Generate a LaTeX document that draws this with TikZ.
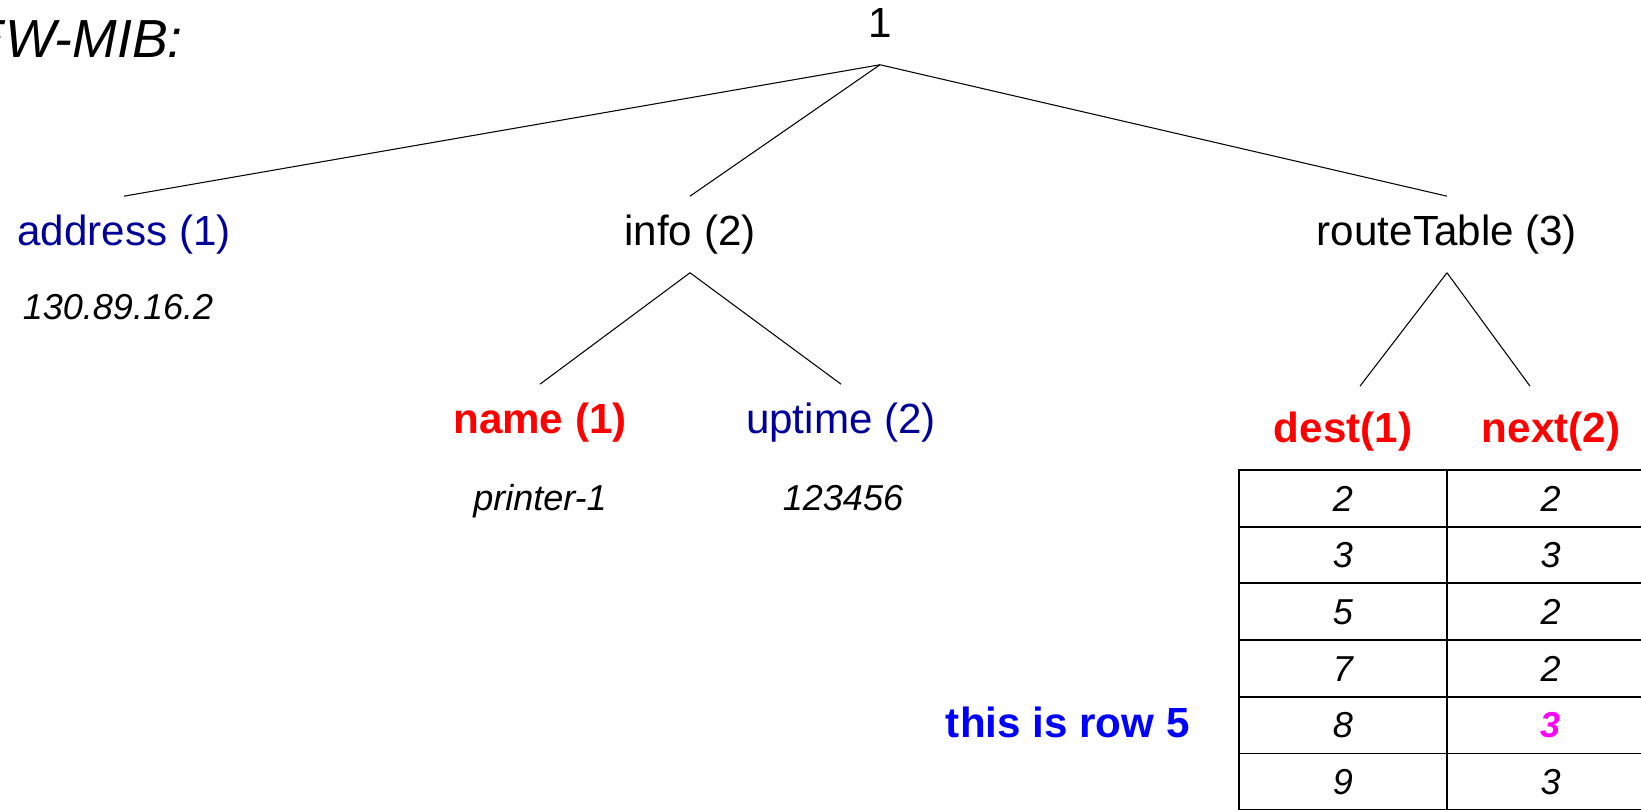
\documentclass[tikz,border=0pt]{standalone}
\usepackage{fontspec}
\setmainfont{Liberation Sans}
\definecolor{mibnavy}{RGB}{0,0,153}
\definecolor{mibpink}{RGB}{255,0,255}
\tikzset{
  lbl/.style={font=\fontsize{24}{28}\selectfont, inner xsep=0pt, inner ysep=9.6pt, text height=18pt, text depth=6pt, anchor=base},
  val/.style={font=\fontsize{20.5}{24}\selectfont\itshape, inner sep=0pt, anchor=base},
  colhead/.style={lbl, font=\fontsize{24}{28}\selectfont\bfseries, text=red, inner ysep=13.6pt},
  cell/.style={draw, line width=1.1pt, minimum width=4.154cm, minimum height=1.134cm, inner sep=0pt, text height=14.6pt, text depth=0pt, font=\fontsize{20.5}{24}\selectfont\itshape},
  branch/.style={line width=0.6pt}
}
\newcommand\hlval[1]{\textbf{\color{mibpink}#1}}
\begin{document}
\begin{tikzpicture}[x=0.02cm,y=-0.02cm]
\useasboundingbox (0,0) rectangle (1641,809);
\node[val, font=\fontsize{30.5}{36}\selectfont\itshape, anchor=base east] (title) at (183,57) {EW-MIB:};
% tree
\node[lbl] (root) at (880,37) {1};
\node[lbl, text=mibnavy] (addr) at (124,245) {address (1)};
\node[lbl] (info) at (690,245) {info (2)};
\node[lbl] (rt) at (1447,245) {routeTable (3)};
\node[lbl, font=\fontsize{24}{28}\selectfont\bfseries, text=red] (name) at (540,433) {name (1)};
\node[lbl, text=mibnavy] (up) at (841,433) {uptime (2)};
\node[colhead] (dest) at (1343,442) {dest(1)};
\node[colhead] (next) at (1551,442) {next(2)};
\node[val] (ip) at (118,319) {130.89.16.2};
\node[val] (pname) at (540,510) {printer-1};
\node[val] (uval) at (843,510) {123456};
\draw[branch] (root.south) -- (addr.north);
\draw[branch] (root.south) -- (info.north);
\draw[branch] (root.south) -- (rt.north);
\draw[branch] (info.south) -- (name.north);
\draw[branch] (info.south) -- (up.north);
\draw[branch] (rt.south) -- ([xshift=0.34cm]dest.north);
\draw[branch] (rt.south) -- ([xshift=-0.42cm]next.north);
% route table
\foreach \d/\n [count=\r] in {2/2,3/3,5/2,7/2,8/\hlval{3},9/3}{
  \node[cell] (d\r) at (1342.85,441.65+56.7*\r) {\d};
  \node[cell] (n\r) at (1550.55,441.65+56.7*\r) {\n};
}
\node[lbl, font=\fontsize{24}{28}\selectfont\bfseries, text=blue, anchor=base east] (note) at (1190,737) {this is row 5};
\end{tikzpicture}
\end{document}
